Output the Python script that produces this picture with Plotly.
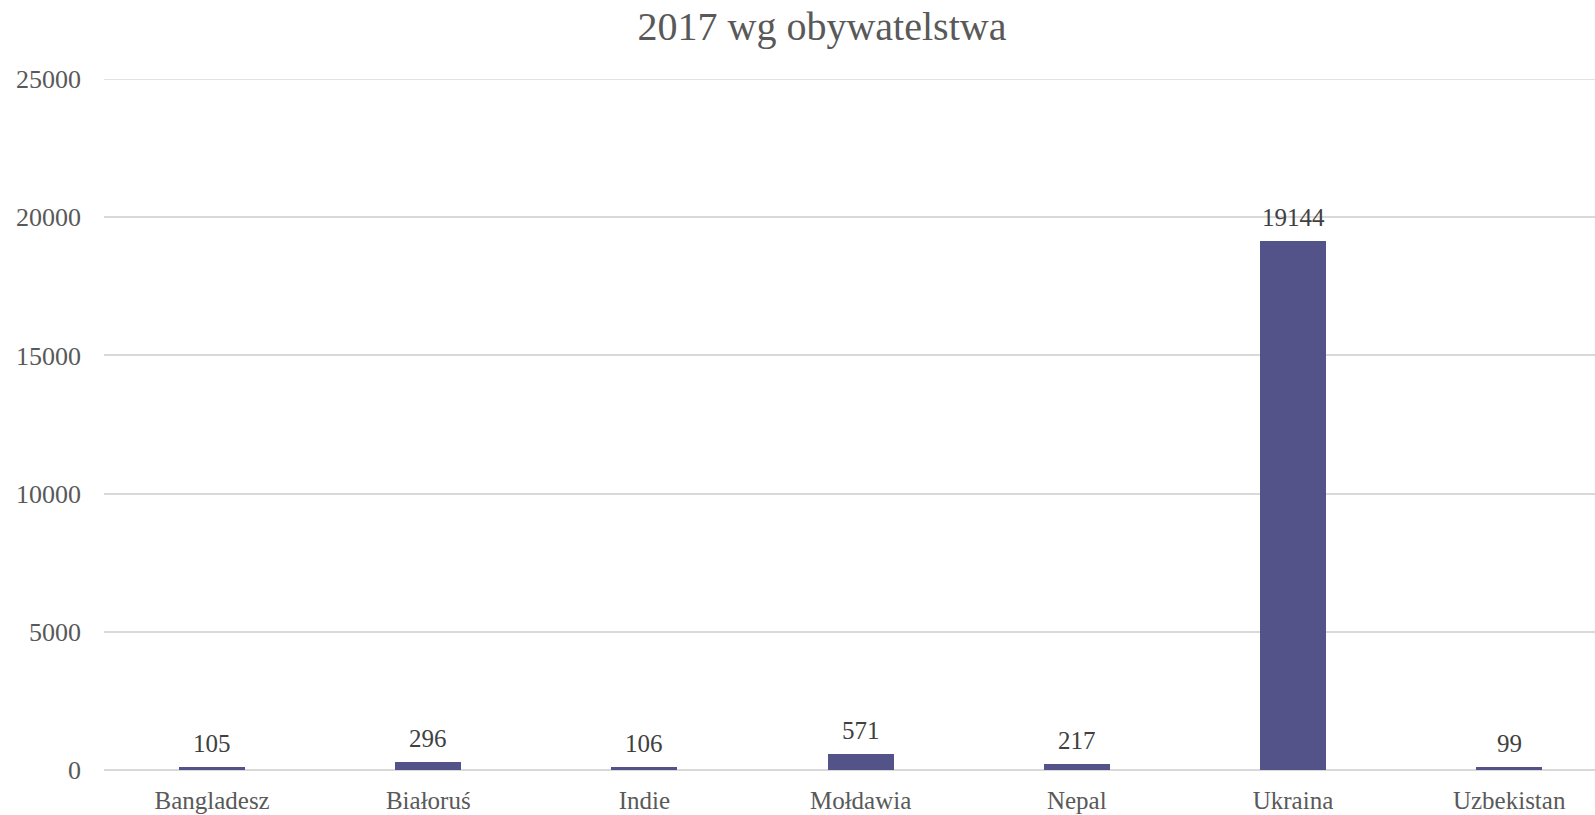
import plotly.graph_objects as go

categories = ["Bangladesz", "Białoruś", "Indie", "Mołdawia", "Nepal", "Ukraina", "Uzbekistan"]
values = [105, 296, 106, 571, 217, 19144, 99]
y_ticks = [0, 5000, 10000, 15000, 20000, 25000]
title_text = "2017 wg obywatelstwa"

FONT = "Liberation Serif"
BAR_COLOR = "#535389"
GRID = "#d9d9d9"

fig = go.Figure()
fig.add_trace(go.Bar(
    x=categories, y=values, marker=dict(color=BAR_COLOR, line=dict(width=0)),
    width=0.305, hoverinfo="x+y",
))

for c, v in zip(categories, values):
    fig.add_annotation(x=c, y=v, text=str(v), showarrow=False, yanchor="bottom",
                       yshift=8, font=dict(family=FONT, size=25, color="#404040"))

# top gridline (plotly omits gridlines at the plot edge)
fig.add_shape(type="line", xref="paper", x0=0, x1=1, yref="y", y0=y_ticks[-1], y1=y_ticks[-1],
              line=dict(color=GRID, width=1.5), layer="below")

fig.update_layout(
    width=1595, height=815,
    margin=dict(l=104, r=0, t=79, b=45),
    paper_bgcolor="white", plot_bgcolor="white",
    title=dict(text=title_text, x=822 / 1595, xanchor="center", y=1 - 25.5 / 815, yanchor="middle",
               font=dict(family=FONT, size=40, color="#595959")),
    showlegend=False,
    bargap=0,
)
fig.update_xaxes(
    range=[-0.5, 6.397], showgrid=False, showline=False, zeroline=False,
    ticks="", tickfont=dict(family=FONT, size=25, color="#595959"), ticklabelstandoff=13,
)
fig.update_yaxes(
    range=[0, 25000], tickvals=y_ticks, tickformat="d", showgrid=True, gridcolor=GRID, gridwidth=1.5,
    zeroline=True, zerolinecolor=GRID, zerolinewidth=1.5, showline=False, ticks="",
    tickfont=dict(family=FONT, size=26, color="#595959"), ticklabelstandoff=22,
)

fig.write_html("out.html", config={"displayModeBar": False},
               post_script="document.body.style.margin='0';document.body.style.overflow='hidden';")
